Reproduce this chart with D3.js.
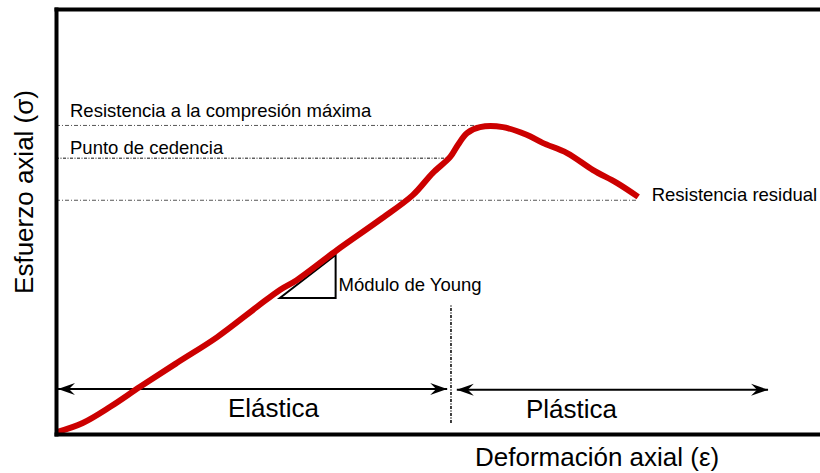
<!DOCTYPE html>
<html>
<head>
<meta charset="utf-8">
<script src="https://cdn.jsdelivr.net/npm/d3@7"></script>
<style>
  body { margin: 0; background: #fff; }
  svg { display: block; font-family: "Liberation Sans", Arial, sans-serif; }
</style>
</head>
<body>
<div id="chart-container"></div>
<script>
const width = 820;
const height = 473;
const margin = { top: 9, left: 56, right: 0, bottom: 39 };

// stress-strain curve (arbitrary units)
const strain = [0.02, 0.35, 0.71, 1.10, 1.58, 2.11, 2.63, 2.93, 3.15, 3.68, 4.24, 4.67, 4.93, 5.16, 5.26, 5.38, 5.55, 5.85, 6.16, 6.37, 6.69, 7.03, 7.34, 7.62];
const stress = [0.5, 2.6, 6.4, 11.1, 16.7, 22.8, 29.9, 33.9, 36.2, 43.3, 50.4, 56.2, 61.4, 65.2, 68.0, 70.8, 72.2, 72.2, 70.4, 68.5, 66.1, 62.1, 59.1, 55.8];

// reference levels
const levelNames = ["Resistencia a la compresión máxima", "Punto de cedencia", "Resistencia residual"];
const levelValues = [72.6, 64.9, 55.0];
const levelEnds = [5.68, 5.16, 7.60];

// young modulus triangle
const youngX = [2.93, 3.66];
const youngY = [32.0, 42.1];

// zones
const zoneNames = ["Elástica", "Plástica"];
const zoneStart = [0, 5.22];
const zoneEnd = [5.12, 9.32];
const zoneY = [10.6, 10.4];
const yieldStrain = 5.17;

const labelSize = 18.5;

const svg = d3.select("#chart-container").append("svg")
  .attr("width", width)
  .attr("height", height);

const x = d3.scaleLinear().domain([0, 10]).range([margin.left, width - margin.right]);
const y = d3.scaleLinear().domain([0, 100]).range([height - margin.bottom, margin.top]);

const defs = svg.append("defs");
defs.append("marker")
  .attr("id", "head")
  .attr("viewBox", "-18 -8 20 16")
  .attr("refX", 0).attr("refY", 0)
  .attr("markerWidth", 20).attr("markerHeight", 16)
  .attr("markerUnits", "userSpaceOnUse")
  .attr("orient", "auto-start-reverse")
  .append("path")
  .attr("d", "M0,0 L-17,-6 L-11,0 L-17,6 Z")
  .attr("fill", "#000");

// reference dashed lines
const gRef = svg.append("g");
levelValues.forEach((v, i) => {
  gRef.append("line")
    .attr("x1", x(0)).attr("x2", x(levelEnds[i]))
    .attr("y1", y(v)).attr("y2", y(v))
    .attr("stroke", i === 1 ? "#111" : "#555")
    .attr("stroke-width", 1)
    .attr("stroke-dasharray", i === 1 ? "3,1.5,1,1.5" : "4,2,1,2");
});

gRef.append("text").attr("x", 70).attr("y", y(levelValues[0]) - 8)
  .attr("font-size", labelSize).text(levelNames[0]);
gRef.append("text").attr("x", 70).attr("y", y(levelValues[1]) - 4)
  .attr("font-size", labelSize).text(levelNames[1]);
gRef.append("text").attr("x", x(levelEnds[2]) + 15).attr("y", y(levelValues[2]) + 1)
  .attr("font-size", labelSize).text(levelNames[2]);

// yield vertical dotted line
svg.append("line")
  .attr("x1", x(yieldStrain)).attr("x2", x(yieldStrain))
  .attr("y1", y(2.6)).attr("y2", y(30.4))
  .attr("stroke", "#000").attr("stroke-width", 1.5)
  .attr("stroke-dasharray", "3,1.5,1,1.5");

// zone arrows
zoneNames.forEach((name, i) => {
  svg.append("line")
    .attr("x1", x(zoneStart[i]) + 2).attr("x2", x(zoneEnd[i]))
    .attr("y1", y(zoneY[i])).attr("y2", y(zoneY[i]))
    .attr("stroke", "#000").attr("stroke-width", 2)
    .attr("marker-start", "url(#head)")
    .attr("marker-end", "url(#head)");
});
svg.append("text").attr("x", 228).attr("y", 417).attr("font-size", 26).text(zoneNames[0]);
svg.append("text").attr("x", 526).attr("y", 418).attr("font-size", 26).text(zoneNames[1]);

// Young modulus triangle
svg.append("path")
  .attr("d", `M${x(youngX[0])},${y(youngY[0])} L${x(youngX[1])},${y(youngY[1])} L${x(youngX[1])},${y(youngY[0])} Z`)
  .attr("fill", "none").attr("stroke", "#000").attr("stroke-width", 2);
svg.append("text").attr("x", x(youngX[1]) + 3).attr("y", 291)
  .attr("font-size", labelSize).text("Módulo de Young");

// curve
const data = strain.map((s, i) => ({ s: s, v: stress[i] }));
svg.append("path")
  .datum(data)
  .attr("fill", "none")
  .attr("stroke", "#cc0000")
  .attr("stroke-width", 6)
  .attr("stroke-linejoin", "round")
  .attr("d", d3.line().x(d => x(d.s)).y(d => y(d.v)).curve(d3.curveCatmullRom));

// frame axes (no ticks)
const gAxis = svg.append("g");
gAxis.append("g").attr("transform", `translate(0,${y(0)})`)
  .call(d3.axisBottom(x).ticks(0).tickSizeOuter(0));
gAxis.append("g").attr("transform", `translate(0,${y(100)})`)
  .call(d3.axisTop(x).ticks(0).tickSizeOuter(0));
gAxis.append("g").attr("transform", `translate(${x(0)},0)`)
  .call(d3.axisLeft(y).ticks(0).tickSizeOuter(0));
gAxis.selectAll(".domain")
  .attr("stroke", "#000")
  .attr("stroke-width", 4)
  .attr("stroke-linecap", "square");

// axis titles
svg.append("text")
  .attr("x", 475).attr("y", 466)
  .attr("font-size", 26)
  .text("Deformación axial (ε)");
svg.append("text")
  .attr("transform", "translate(33,192) rotate(-90)")
  .attr("text-anchor", "middle")
  .attr("font-size", 26)
  .text("Esfuerzo axial (σ)");
</script>
</body>
</html>
